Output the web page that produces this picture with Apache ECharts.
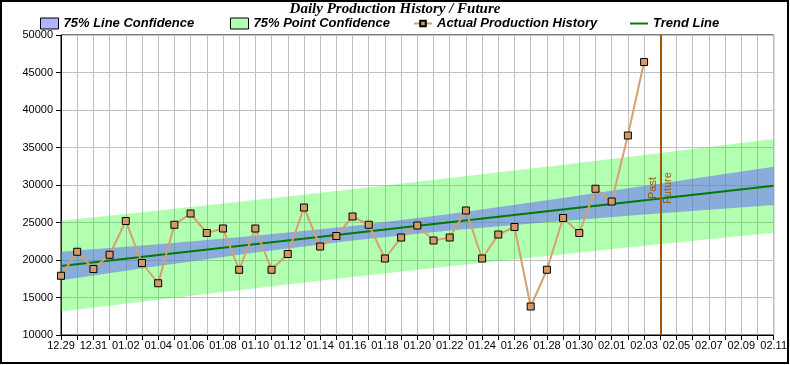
<!DOCTYPE html>
<html>
<head>
<meta charset="utf-8">
<script src="https://cdn.jsdelivr.net/npm/echarts@6/dist/echarts.min.js"></script>
<style>
html,body{margin:0;padding:0;background:#fff;}
#c{width:790px;height:365px;}
</style>
</head>
<body>
<div id="c"></div>
<script>
// Tick labels (one per day, index 0..44)
const dates = ['12.29','12.30','12.31','01.01','01.02','01.03','01.04','01.05','01.06','01.07',
  '01.08','01.09','01.10','01.11','01.12','01.13','01.14','01.15','01.16','01.17',
  '01.18','01.19','01.20','01.21','01.22','01.23','01.24','01.25','01.26','01.27',
  '01.28','01.29','01.30','01.31','02.01','02.02','02.03','02.04','02.05','02.06',
  '02.07','02.08','02.09','02.10','02.11'];

// Actual production history (index 0..36)
const actual = [17900,21100,18800,20700,25200,19600,16900,24700,26200,23600,
  24200,18700,24200,18700,20800,27000,21800,23200,25800,24700,
  20200,23000,24600,22600,23000,26600,20200,23400,24400,13800,
  18700,25600,23600,29500,27800,36600,46400];

// Trend line end points
const trendX = [0, 44];
const trendY = [19200, 29900];

// Confidence band edges read at these day indices
const bandX = [0, 6, 12, 18, 24, 30, 36, 44];
const lineUpper  = [21100, 22100, 23230, 24550, 26150, 27960, 29860, 32450];
const lineLower  = [17300, 19200, 21010, 22610, 23930, 25040, 26060, 27350];
const pointUpper = [25250, 26610, 28000, 29440, 30920, 32450, 34010, 36150];
const pointLower = [13150, 14710, 16240, 17720, 19160, 20550, 21910, 23650];

// Past / Future divider index
const dividerX = 37;

const chart = echarts.init(document.getElementById('c'), null, {renderer: 'canvas'});

const pairs = (xs, ys) => xs.map((x, i) => [x, ys[i]]);

function bandSeries(name, lower, upper, fill) {
  return {
    name: name, type: 'custom', silent: true,
    data: bandX.map((x, i) => [x, lower[i], upper[i]]),
    encode: {x: 0, y: [1, 2]},
    itemStyle: {color: fill},
    renderItem: function (params, api) {
      if (params.dataIndex !== 0) return null;
      const pts = [];
      for (let i = 0; i < bandX.length; i++) pts.push(api.coord([bandX[i], upper[i]]));
      for (let i = bandX.length - 1; i >= 0; i--) pts.push(api.coord([bandX[i], lower[i]]));
      return {type: 'polygon', shape: {points: pts}, style: {fill: fill, stroke: null}};
    }
  };
}

const legendText = {fontFamily: 'Liberation Sans', fontStyle: 'italic', fontWeight: 'bold', fontSize: 13, color: '#000'};
const mkLegend = (left, item, ih) => ({
  left: left, top: 17, padding: 0, itemWidth: 18, itemHeight: ih || 11,
  selectedMode: false, textStyle: legendText, data: [item]
});

const option = {
  animation: false,
  backgroundColor: '#fff',
  title: {
    text: 'Daily Production History / Future',
    left: 'center', top: 2, padding: 0,
    textStyle: {fontFamily: 'Liberation Serif', fontStyle: 'italic', fontWeight: 'bold', fontSize: 15, color: '#000'}
  },
  legend: [
    mkLegend(40, {name: '75% Line Confidence', icon: 'rect', itemStyle: {color: 'rgb(178,178,255)', borderColor: '#000', borderWidth: 1}}),
    mkLegend(230, {name: '75% Point Confidence', icon: 'rect', itemStyle: {color: 'rgb(179,255,179)', borderColor: '#000', borderWidth: 1}}),
    mkLegend(413, {name: 'Actual Production History'}, 7),
    mkLegend(629, {name: 'Trend Line', itemStyle: {opacity: 0}, lineStyle: {color: '#008000', width: 2, opacity: 1}})
  ],
  graphic: [{
    type: 'rect', silent: true, z: 100,
    shape: {x: 1, y: 1, width: 787, height: 362},
    style: {fill: 'none', stroke: '#000', lineWidth: 2}
  }],
  grid: {left: 61, right: 15, top: 35, bottom: 30, show: true, borderColor: '#000', borderWidth: 1, backgroundColor: 'transparent'},
  xAxis: {
    type: 'value', min: 0, max: dates.length - 1, interval: 1,
    axisLine: {lineStyle: {color: '#000', width: 1}},
    axisTick: {show: true, length: 5, lineStyle: {color: '#000'}},
    axisLabel: {
      margin: 5, color: '#000', fontFamily: 'Liberation Sans', fontSize: 11,
      formatter: v => (v % 2 === 0 ? dates[v] : '')
    },
    splitLine: {show: true, lineStyle: {color: '#c0c0c0', width: 1}}
  },
  yAxis: {
    type: 'value', min: 10000, max: 50000, interval: 5000,
    axisLine: {show: true, lineStyle: {color: '#000', width: 1}},
    axisTick: {show: true, length: 5, lineStyle: {color: '#000'}},
    axisLabel: {margin: 8, color: '#000', fontFamily: 'Liberation Sans', fontSize: 11, formatter: v => String(v)},
    splitLine: {show: true, lineStyle: {color: '#c0c0c0', width: 1}}
  },
  series: [
    bandSeries('75% Point Confidence', pointLower, pointUpper, 'rgba(0,255,0,0.3)'),
    bandSeries('75% Line Confidence', lineLower, lineUpper, 'rgba(98,90,255,0.5)'),
    {
      name: 'Trend Line', type: 'line', silent: true, symbol: 'none',
      data: pairs(trendX, trendY),
      lineStyle: {color: '#007a00', width: 2},
      itemStyle: {color: '#007a00'}
    },
    {
      name: 'Actual Production History', type: 'line', silent: true,
      symbol: 'rect', symbolSize: 7,
      data: actual.map((v, i) => [i, v]),
      lineStyle: {color: '#d6a06e', width: 2},
      itemStyle: {color: '#d49a66', borderColor: '#000', borderWidth: 1},
      markLine: {
        silent: true, symbol: ['none', 'none'], animation: false,
        lineStyle: {color: '#a65600', width: 2, type: 'solid'},
        label: {color: '#a65600', fontFamily: 'Liberation Sans', fontSize: 11, distance: 2, padding: [0, 6, 0, 0]},
        data: [
          {xAxis: dividerX, label: {formatter: 'Past', position: 'insideMiddleTop'}},
          {xAxis: dividerX, label: {formatter: 'Future', position: 'insideMiddleBottom'}}
        ]
      }
    }
  ]
};
chart.setOption(option);
</script>
</body>
</html>
